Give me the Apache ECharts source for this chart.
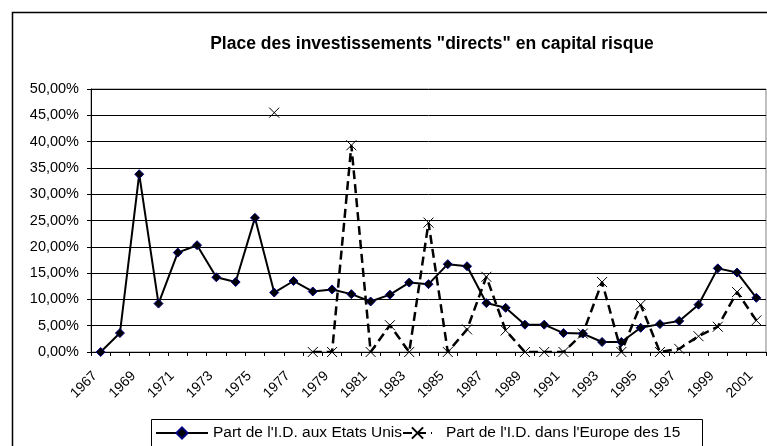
<!DOCTYPE html>
<html>
<head>
<meta charset="utf-8">
<script src="https://cdn.jsdelivr.net/npm/echarts@6/dist/echarts.min.js"></script>
<style>
html,body{margin:0;padding:0;background:#fff;}
#c{width:767px;height:446px;}
</style>
</head>
<body>
<div id="c"></div>
<script>
var years = [];
for (var y = 1967; y <= 2001; y++) years.push(String(y));

var usShare = [0, 3.6, 33.8, 9.2, 18.9, 20.3, 14.2, 13.3, 25.5, 11.3,
  13.5, 11.5, 11.9, 11.0, 9.6, 10.9, 13.2, 12.9, 16.7, 16.3,
  9.3, 8.4, 5.2, 5.2, 3.6, 3.5, 1.9, 1.9, 4.6, 5.3,
  5.9, 9.0, 15.9, 15.1, 10.3];

var euShare = [null, null, null, null, null, null, null, null, null, 45.5,
  null, 0, 0, 39.3, 0, 5.1, 0, 24.6, 0, 4.3,
  14.3, 4.1, 0, 0, 0, 3.5, 13.3, 0, 9.0, 0,
  0.6, 3.0, 4.8, 11.4, 6.0];

var seriesNames = ["Part de l'I.D. aux Etats Unis", "Part de l'I.D. dans l'Europe des 15"];
var titleText = 'Place des investissements "directs" en capital risque';

var FONT = 'Liberation Sans, Arial, sans-serif';
var chart = echarts.init(document.getElementById('c'), null, {renderer: 'canvas'});
chart.setOption({
  animation: false,
  backgroundColor: '#fff',
  graphic: [{
    type: 'rect', silent: true, z: -10,
    shape: {x: 12.5, y: 12.5, width: 800, height: 500},
    style: {fill: 'none', stroke: '#000', lineWidth: 1.5}
  }, {
    type: 'rect', silent: true, z: 10,
    shape: {x: 151.5, y: 419.5, width: 551, height: 40},
    style: {fill: 'none', stroke: '#000', lineWidth: 1}
  }],
  title: {
    text: titleText,
    left: 427, top: 30, textAlign: 'center',
    textStyle: {fontFamily: FONT, fontWeight: 'bold', fontSize: 17.5, color: '#000'}
  },
  legend: [{
    left: 155, top: 425, padding: 0,
    itemWidth: 52, itemHeight: 14,
    textStyle: {fontFamily: FONT, fontSize: 15.5, color: '#000'},
    data: [seriesNames[0]]
  }, {
    left: 402, top: 425, padding: 0,
    itemWidth: 29, itemHeight: 14,
    textStyle: {fontFamily: FONT, fontSize: 15.5, color: '#000', padding: [0, 0, 0, 9]},
    data: [seriesNames[1]]
  }],
  grid: {
    left: 91, right: 1, top: 89, bottom: 94,
    show: true, borderColor: '#808080', borderWidth: 1,
    outerBoundsMode: 'none', containLabel: false
  },
  xAxis: {
    type: 'category', data: years, boundaryGap: true,
    axisLine: {lineStyle: {color: '#000', width: 1}},
    axisTick: {show: true, length: 4, interval: 0, lineStyle: {color: '#000'}},
    axisLabel: {interval: 1, rotate: 45, fontFamily: FONT, fontSize: 14, color: '#000',
      margin: 16, padding: [0, 8, 0, 0]}
  },
  yAxis: {
    type: 'value', min: 0, max: 50, interval: 5,
    axisLine: {show: true, lineStyle: {color: '#000', width: 1}},
    axisTick: {show: true, length: 4, lineStyle: {color: '#000'}},
    splitLine: {show: true, lineStyle: {color: '#000', width: 1}},
    axisLabel: {
      fontFamily: FONT, fontSize: 14.5, color: '#000', margin: 12,
      formatter: function (v) { return v.toFixed(2).replace('.', ',') + '%'; }
    }
  },
  series: [{
    name: seriesNames[0], type: 'line', data: usShare,
    showAllSymbol: true, symbol: 'diamond', symbolSize: 9,
    lineStyle: {color: '#000', width: 2},
    itemStyle: {color: '#000', borderColor: '#000080', borderWidth: 1},
    z: 3
  }, {
    name: seriesNames[1], type: 'line', data: euShare,
    showAllSymbol: true, connectNulls: false,
    symbol: 'path://M0,0L10,10M10,0L0,10', symbolSize: 10,
    lineStyle: {color: '#000', width: 2.5, type: [9, 5]},
    itemStyle: {color: '#000', borderColor: '#000', borderWidth: 1},
    z: 4
  }]
});
</script>
</body>
</html>
